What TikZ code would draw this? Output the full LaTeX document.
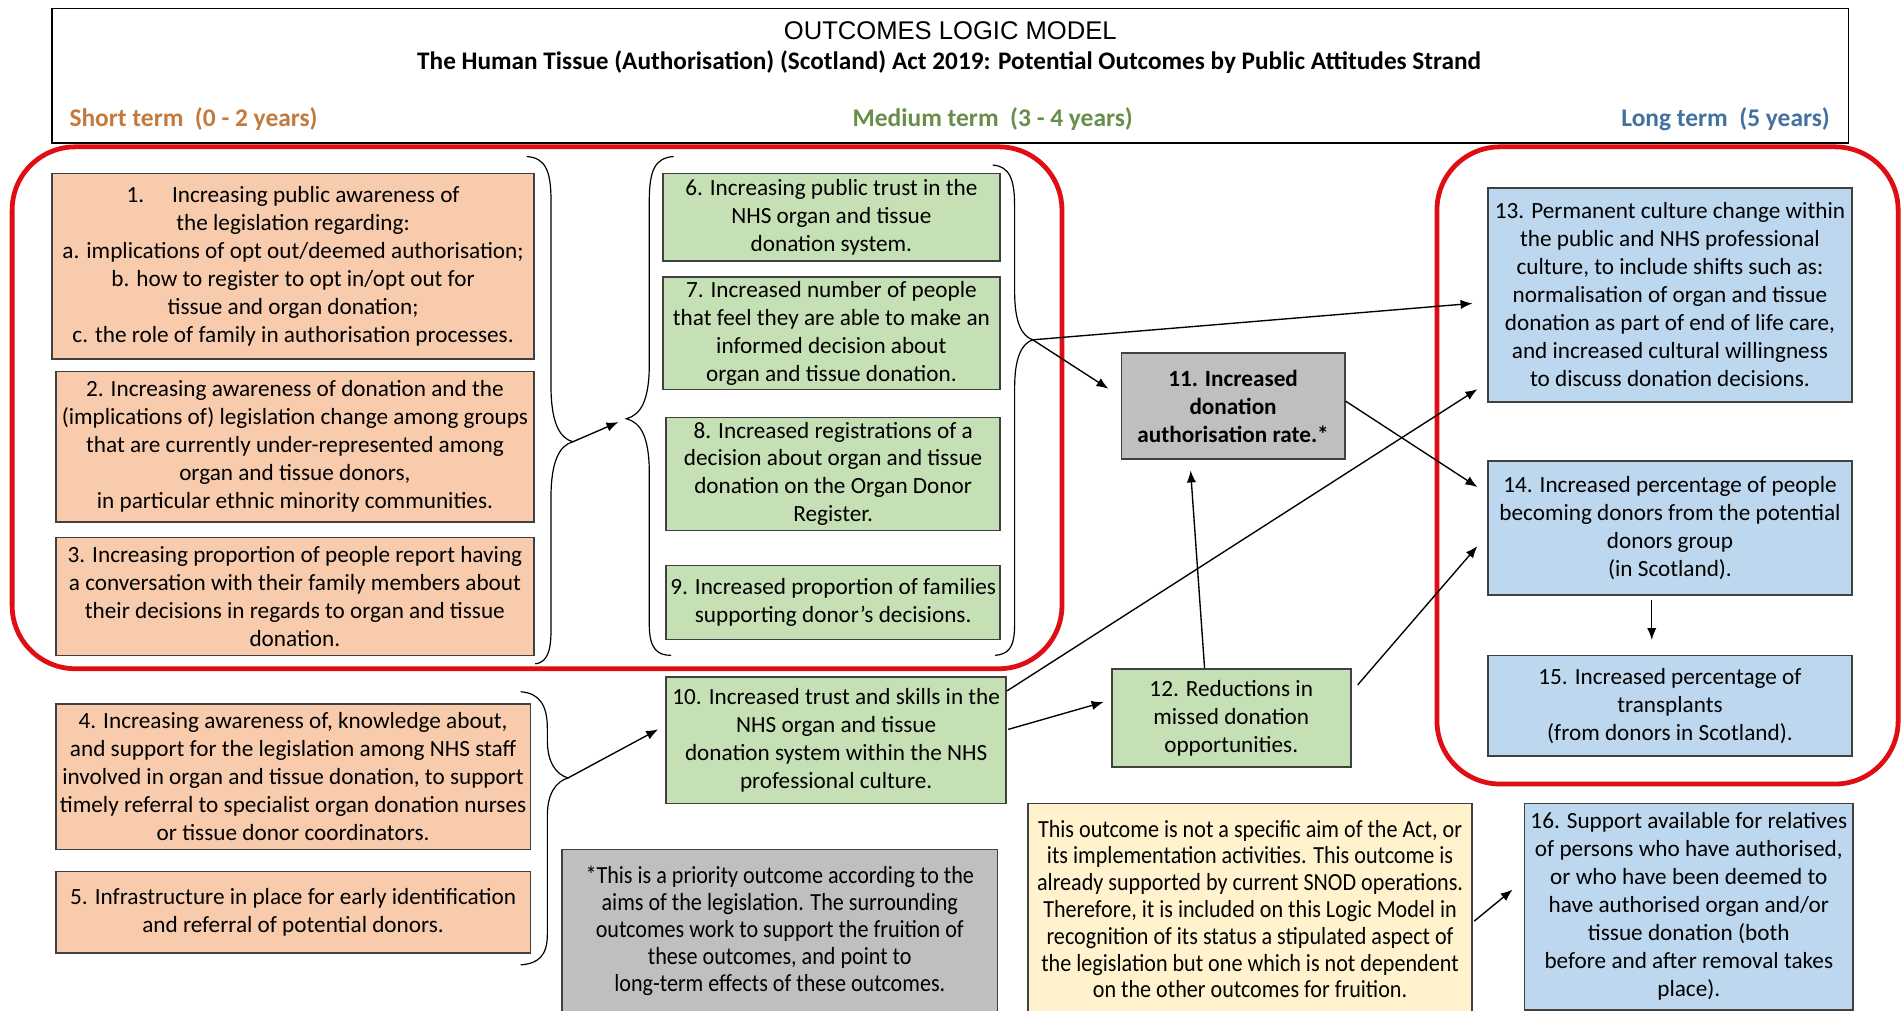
\documentclass[tikz,border=0pt]{standalone}
\usepackage{fontspec}
\setmainfont{Carlito}
\newfontfamily\arialfont{Liberation Sans}
\newfontfamily\notefont[FakeStretch=0.9]{Carlito}
\usetikzlibrary{arrows.meta,calc}
\definecolor{peach}{RGB}{248,203,173}
\definecolor{leaf}{RGB}{197,224,180}
\definecolor{sky}{RGB}{189,215,238}
\definecolor{ash}{RGB}{191,191,191}
\definecolor{cream}{RGB}{255,242,204}
\definecolor{redline}{RGB}{222,14,20}
\definecolor{shortc}{RGB}{196,122,60}
\definecolor{medc}{RGB}{104,142,74}
\definecolor{longc}{RGB}{68,114,160}
\begin{document}
\begin{tikzpicture}[x=0.025cm,y=-0.025cm,>={Latex[length=7pt,width=5.5pt]},
  boxsize/.style 2 args={minimum width=#1*0.025cm,minimum height=#2*0.025cm},
  outbox/.style={draw=black!75,line width=1pt,inner sep=0pt,align=center,
    font=\fontsize{13.6}{16.4}\selectfont},
  shortbox/.style={outbox,fill=peach},
  medbox/.style={outbox,fill=leaf},
  longbox/.style={outbox,fill=sky},
  keybox/.style={outbox,fill=ash,font=\bfseries\fontsize{13.6}{16.4}\selectfont},
  notebox/.style={outbox,font=\notefont\fontsize{14.4}{15.7}\selectfont},
  termlbl/.style={font=\bfseries\fontsize{14.9}{17}\selectfont,inner sep=0pt},
  redframe/.style={draw=redline,line width=2.8pt,rounded corners=1.3cm},
  brace/.style={line width=0.7pt},
  link/.style={->,line width=0.8pt}]
\useasboundingbox (0,0) rectangle (1568,833);
\clip (0,0) rectangle (1568,833);
\fill[white] (0,0) rectangle (1568,833);

\node[draw,line width=0.9pt,boxsize={1480}{111}] (head) at (783,62.5) {};
\node[font=\arialfont\fontsize{15}{18}\selectfont] (title) at (783,25) {OUTCOMES LOGIC MODEL};
\node[font=\bfseries\fontsize{14.8}{17}\selectfont] (subtitle) at (782,51) {The Human Tissue (Authorisation) (Scotland) Act 2019: Potential Outcomes by Public Attitudes Strand};
\node[termlbl,text=shortc,anchor=west] (shortlbl) at (57,98) {Short term\ \ (0 - 2 years)};
\node[termlbl,text=medc] (medlbl) at (818,98) {Medium term\ \ (3 - 4 years)};
\node[termlbl,text=longc,anchor=east] (longlbl) at (1508,98) {Long term\ \ (5 years)};

\node[shortbox,boxsize={397}{153}] (b1) at (241.5,219.5) {1.\hspace{1.2em}Increasing public awareness of\\the legislation regarding:\\a. implications of opt out/deemed authorisation;\\b. how to register to opt in/opt out for\\tissue and organ donation;\\c. the role of family in authorisation processes.};
\node[shortbox,boxsize={394}{124}] (b2) at (243,368) {2. Increasing awareness of donation and the\\(implications of) legislation change among groups\\that are currently under-represented among\\organ and tissue donors,\\in particular ethnic minority communities.};
\node[shortbox,boxsize={394}{97}] (b3) at (243,491.5) {3. Increasing proportion of people report having\\a conversation with their family members about\\their decisions in regards to organ and tissue\\donation.};
\node[shortbox,boxsize={391}{120}] (b4) at (241.5,640) {4. Increasing awareness of, knowledge about,\\and support for the legislation among NHS staff\\involved in organ and tissue donation, to support\\timely referral to specialist organ donation nurses\\or tissue donor coordinators.};
\node[shortbox,boxsize={391}{67}] (b5) at (241.5,751.5) {5. Infrastructure in place for early identification\\and referral of potential donors.};

\node[medbox,boxsize={278}{72}] (b6) at (685,179) {6. Increasing public trust in the\\NHS organ and tissue\\donation system.};
\node[medbox,boxsize={278}{93}] (b7) at (685,274.5) {7. Increased number of people\\that feel they are able to make an\\informed decision about\\organ and tissue donation.};
\node[medbox,boxsize={275}{93}] (b8) at (686.5,390.5) {8. Increased registrations of a\\decision about organ and tissue\\donation on the Organ Donor\\Register.};
\node[medbox,boxsize={275}{61}] (b9) at (686.5,496.5) {9. Increased proportion of families\\supporting donor's decisions.};
\node[medbox,boxsize={280}{104}] (b10) at (689,610) {10. Increased trust and skills in the\\NHS organ and tissue\\donation system within the NHS\\professional culture.};
\node[keybox,boxsize={184}{87}] (b11) at (1016,334.5) {11. Increased\\donation\\authorisation rate.*};
\node[medbox,boxsize={197}{81}] (b12) at (1014.5,591.5) {12. Reductions in\\missed donation\\opportunities.};

\node[longbox,boxsize={300}{176}] (b13) at (1376,243) {13. Permanent culture change within\\the public and NHS professional\\culture, to include shifts such as:\\normalisation of organ and tissue\\donation as part of end of life care,\\and increased cultural willingness\\to discuss donation decisions.};
\node[longbox,boxsize={300}{110}] (b14) at (1376,435) {14. Increased percentage of people\\becoming donors from the potential\\donors group\\(in Scotland).};
\node[longbox,boxsize={300}{83}] (b15) at (1376,581.5) {15. Increased percentage of\\transplants\\(from donors in Scotland).};
\node[longbox,boxsize={271}{170}] (b16) at (1391.5,747) {16. Support available for relatives\\of persons who have authorised,\\or who have been deemed to\\have authorised organ and/or\\tissue donation (both\\before and after removal takes\\place).};

\node[notebox,fill=ash,boxsize={359}{134}] (keynote) at (642.5,767) {*This is a priority outcome according to the\\aims of the legislation. The surrounding\\outcomes work to support the fruition of\\these outcomes, and point to\\long-term effects of these outcomes.};
\node[notebox,fill=cream,boxsize={366}{174}] (snodnote) at (1030,749) {This outcome is not a specific aim of the Act, or\\its implementation activities. This outcome is\\already supported by current SNOD operations.\\Therefore, it is included on this Logic Model in\\recognition of its status a stipulated aspect of\\the legislation but one which is not dependent\\on the other outcomes for fruition.};

\draw[redframe] (10,121) rectangle (875,551);
\draw[redframe] (1184,121) rectangle (1564,646);

\draw[brace] (434,129) .. controls (449,130) and (454,140) .. (454,165) -- (454,318) .. controls (454,348) and (461,361) .. (472,364) .. controls (461,367) and (454,380) .. (454,410) -- (454,520) .. controls (454,540) and (449,546) .. (441,547);
\draw[brace] (555,129) .. controls (540,130) and (535,140) .. (535,165) -- (535,300) .. controls (535,330) and (528,342) .. (516,345) .. controls (528,348) and (535,360) .. (535,390) -- (535,515) .. controls (535,535) and (542,540) .. (553,540);
\draw[brace] (818,136) .. controls (832,137) and (836,148) .. (836,170) -- (836,240) .. controls (836,266) and (842,277) .. (851,280) .. controls (842,283) and (836,294) .. (836,320) -- (836,515) .. controls (836,535) and (830,539) .. (820,540);
\draw[brace] (429,570) .. controls (445,571) and (451,582) .. (451,600) -- (451,610) .. controls (451,628) and (458,638) .. (468,641) .. controls (458,644) and (451,654) .. (451,672) -- (451,770) .. controls (451,788) and (443,794) .. (429,795);
\coordinate (tipA) at (472,364);
\coordinate (tipB) at (516,345);
\coordinate (tipC) at (851,280);
\coordinate (tipD) at (468,641);

\draw[link,shorten >=5pt] (tipA) -- (tipB);
\draw[link] (tipD) -- ($(b10.west)+(-6,-9)$);
\draw[link] (tipC) -- ($(b13.west)+(-12,7)$);
\draw[link] (tipC) -- ($(b11.north west)+(-10,30)$);
\draw[link] ($(b10.north east)+(0,12)$) -- ($(b13.south west)+(-8,-11)$);
\draw[link] ($(b10.east)+(1,-9)$) -- ($(b12.west)+(-6,-13)$);
\draw[link] ($(b12.north)+(-22,0)$) -- ($(b11.south)+(-35,9)$);
\draw[link] ($(b11.east)+(0,-4)$) -- ($(b14.north west)+(-8,22)$);
\draw[link] ($(b12.north east)+(5,14)$) -- ($(b14.west)+(-8,15)$);
\draw[link] ($(b14.south)+(-15,4)$) -- ($(b15.north)+(-15,-12)$);
\draw[link] ($(snodnote.east)+(1,10)$) -- ($(b16.west)+(-9,-14)$);
\end{tikzpicture}
\end{document}
